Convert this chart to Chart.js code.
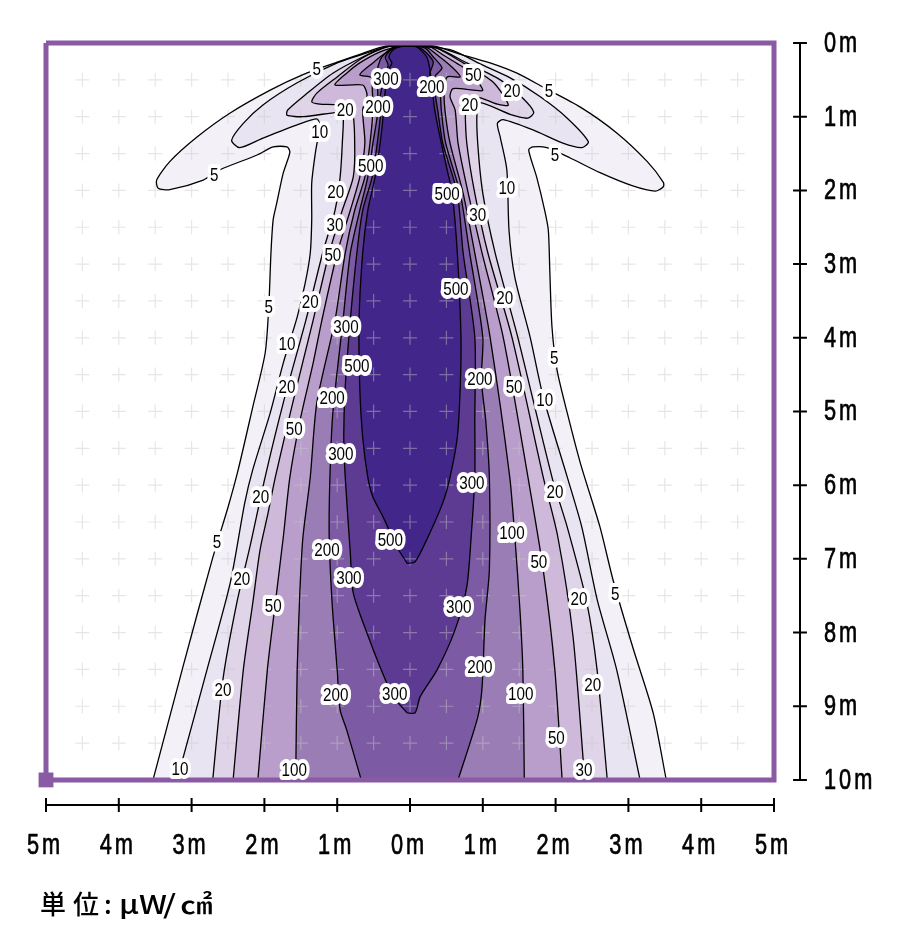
<!DOCTYPE html>
<html>
<head>
<meta charset="utf-8">
<script src="https://cdn.jsdelivr.net/npm/chart.js@4"></script>
<style>
  html, body { margin: 0; background: #fff; }
  #wrap { position: relative; width: 900px; height: 950px; }
  #unit span { position: absolute; top: 884px; font: 500 26px "Noto Sans CJK JP"; color: #000; white-space: nowrap; transform-origin: left center; }
</style>
</head>
<body>
<div id="wrap">
  <canvas id="chart" width="900" height="950"></canvas>
  <div id="unit"><span style="left:40px;letter-spacing:7px">単位</span><span style="left:104px">:</span><span style="left:119px;transform:scaleX(1.2)">μW</span><span style="left:163px;transform:scaleX(1.3)">/</span><span style="left:180px;transform:scaleX(1.25)">㎠</span></div>
</div>
<script>
// contour lines, [x metres from centre, y metres from lamp]
const level5 = [[-3.53,10],[-3.12,8.47],[-2.72,7.02],[-2.50,6.30],[-2.36,5.79],[-2.16,4.94],[-1.99,4.21],[-1.94,3.58],[-1.91,2.85],[-1.88,2.40],[-1.83,2.17],[-1.74,1.76],[-1.65,1.48],[-1.69,1.41],[-1.88,1.41],[-2.10,1.52],[-2.61,1.72],[-2.84,1.86],[-3.30,1.99],[-3.46,1.97],[-3.48,1.86],[-3.30,1.61],[-2.93,1.28],[-2.47,0.95],[-1.92,0.64],[-1.47,0.43],[-1.00,0.26],[-0.65,0.14],[-0.32,0.04],[0,0.03],[0.32,0.04],[0.65,0.14],[1.10,0.27],[1.47,0.41],[1.83,0.60],[2.34,0.87],[2.84,1.22],[3.26,1.61],[3.48,1.89],[3.48,1.95],[3.37,2.01],[3.06,1.94],[2.61,1.76],[2.20,1.56],[1.88,1.42],[1.69,1.41],[1.63,1.45],[1.74,1.82],[1.85,2.27],[1.90,2.54],[1.92,3.08],[1.95,3.85],[2.02,4.44],[2.16,5.02],[2.34,5.70],[2.61,6.57],[2.79,7.29],[3.06,8.20],[3.34,9.09],[3.52,10]];
const level10 = [[-3.20,10],[-2.79,8.51],[-2.47,7.33],[-2.27,6.24],[-2.16,5.79],[-1.92,5.02],[-1.74,4.34],[-1.55,3.72],[-1.44,3.26],[-1.37,2.85],[-1.35,2.40],[-1.35,1.90],[-1.30,1.49],[-1.24,1.11],[-1.28,1.03],[-1.55,1.11],[-2.02,1.29],[-2.34,1.42],[-2.45,1.32],[-2.29,1.09],[-2.02,0.84],[-1.55,0.54],[-1.00,0.27],[-0.55,0.12],[-0.27,0.04],[0,0.03],[0.55,0.09],[1.00,0.30],[1.37,0.47],[1.79,0.73],[2.16,1.02],[2.45,1.34],[2.36,1.42],[2.10,1.36],[1.69,1.18],[1.28,1.04],[1.20,1.09],[1.24,1.28],[1.33,1.72],[1.36,2.54],[1.44,3.18],[1.65,3.99],[1.83,4.80],[2.16,5.89],[2.36,6.57],[2.57,7.55],[2.84,8.51],[3.16,10]];
const level20 = [[-2.71,10],[-2.57,8.64],[-2.38,7.60],[-2.20,6.84],[-1.99,5.89],[-1.74,4.88],[-1.43,3.76],[-1.20,2.85],[-1.03,2.27],[-0.96,1.82],[-0.93,1.36],[-0.92,0.95],[-1.00,0.94],[-1.47,1.00],[-1.69,0.98],[-1.68,0.91],[-1.41,0.68],[-1.06,0.41],[-0.65,0.19],[-0.32,0.05],[0,0.04],[0.37,0.07],[0.78,0.27],[1.24,0.50],[1.55,0.75],[1.70,0.94],[1.62,1.02],[1.41,0.98],[0.96,0.81],[0.92,0.95],[0.93,1.36],[1.00,2.04],[1.17,2.85],[1.48,3.99],[1.95,5.89],[2.16,6.57],[2.43,7.60],[2.57,8.51],[2.71,10]];
const level30 = [[-2.43,10],[-2.29,8.51],[-2.16,7.60],[-2.06,6.88],[-1.95,6.38],[-1.85,5.89],[-1.61,4.88],[-1.33,3.76],[-1.11,2.85],[-0.93,2.27],[-0.78,1.82],[-0.76,1.36],[-0.80,0.91],[-1.00,0.84],[-1.24,0.83],[-1.35,0.80],[-1.28,0.68],[-1.00,0.46],[-0.65,0.20],[-0.30,0.05],[0,0.04],[0.32,0.05],[0.73,0.27],[1.14,0.53],[1.35,0.84],[1.20,0.83],[0.92,0.73],[0.78,0.77],[0.76,0.91],[0.78,1.36],[0.89,2.04],[1.07,2.85],[1.40,3.99],[1.83,5.89],[2.03,6.70],[2.24,8.06],[2.40,10]];
const level50 = [[-2.09,10],[-1.96,8.51],[-1.85,7.60],[-1.74,6.70],[-1.65,5.89],[-1.51,5.12],[-1.33,4.34],[-1.21,3.76],[-1.00,2.85],[-0.82,2.27],[-0.69,1.82],[-0.62,1.36],[-0.65,0.91],[-0.59,0.71],[-0.65,0.57],[-1.03,0.57],[-0.87,0.41],[-0.69,0.27],[-0.41,0.12],[-0.16,0.05],[0,0.04],[0.27,0.05],[0.45,0.16],[0.65,0.28],[0.82,0.39],[1.00,0.64],[0.87,0.64],[0.59,0.62],[0.55,0.73],[0.62,0.91],[0.66,1.36],[0.80,2.04],[0.99,2.85],[1.28,3.99],[1.62,5.89],[1.83,7.15],[1.99,8.51],[2.09,10]];
const level100 = [[-1.57,10],[-1.55,8.51],[-1.51,7.38],[-1.47,6.70],[-1.37,5.89],[-1.28,4.88],[-1.03,3.76],[-0.89,2.85],[-0.76,2.27],[-0.62,1.82],[-0.55,1.36],[-0.51,0.91],[-0.52,0.57],[-0.52,0.47],[-0.69,0.43],[-0.51,0.27],[-0.34,0.14],[-0.16,0.05],[0,0.04],[0.21,0.05],[0.41,0.19],[0.59,0.34],[0.69,0.46],[0.51,0.46],[0.47,0.64],[0.48,0.91],[0.55,1.36],[0.73,2.04],[0.89,2.85],[1.10,3.99],[1.37,5.89],[1.44,6.70],[1.51,7.69],[1.55,8.51],[1.57,10]];
const level200 = [[-0.67,10],[-0.87,9.32],[-0.96,9.05],[-1.00,8.51],[-1.07,7.60],[-1.11,6.70],[-1.10,5.89],[-1.06,5.02],[-0.92,3.76],[-0.82,2.85],[-0.69,2.27],[-0.58,1.82],[-0.51,1.36],[-0.44,0.91],[-0.45,0.39],[-0.41,0.23],[-0.34,0.14],[-0.21,0.05],[0,0.04],[0.21,0.07],[0.32,0.19],[0.44,0.34],[0.34,0.46],[0.41,0.64],[0.43,0.91],[0.49,1.36],[0.69,2.04],[0.82,2.85],[1.00,3.99],[0.98,4.57],[1.04,5.12],[1.09,5.89],[1.09,7.15],[1.03,7.83],[0.99,8.74],[0.93,9.15],[0.66,10]];
const level300 = [[-0.04,9.09],[-0.23,8.87],[-0.41,8.47],[-0.59,8.01],[-0.78,7.46],[-0.82,6.92],[-0.89,5.89],[-0.91,5.35],[-0.89,4.67],[-0.82,3.76],[-0.73,2.85],[-0.65,2.27],[-0.52,1.82],[-0.45,1.36],[-0.40,0.91],[-0.41,0.73],[-0.37,0.54],[-0.30,0.30],[-0.34,0.19],[-0.21,0.05],[0,0.04],[0.14,0.07],[0.25,0.16],[0.32,0.26],[0.27,0.43],[0.32,0.57],[0.38,0.91],[0.45,1.36],[0.65,2.04],[0.73,2.85],[0.89,3.99],[0.89,5.12],[0.89,5.89],[0.84,6.70],[0.78,7.38],[0.62,7.96],[0.37,8.51],[0.14,8.87],[0.07,9.09],[-0.04,9.09]];
const level500 = [[-0.04,7.06],[-0.18,6.84],[-0.37,6.43],[-0.51,6.16],[-0.58,5.89],[-0.65,5.35],[-0.69,4.67],[-0.70,3.76],[-0.65,2.85],[-0.58,2.27],[-0.48,1.82],[-0.41,1.36],[-0.36,0.91],[-0.34,0.64],[-0.30,0.37],[-0.25,0.27],[-0.29,0.19],[-0.23,0.09],[-0.07,0.04],[0.07,0.04],[0.14,0.09],[0.23,0.19],[0.27,0.34],[0.30,0.57],[0.34,0.91],[0.43,1.36],[0.51,1.72],[0.58,2.04],[0.65,2.85],[0.70,3.99],[0.69,4.67],[0.65,5.35],[0.55,5.89],[0.45,6.24],[0.23,6.74],[0.07,7.04],[-0.04,7.06]];

const contours = [level5, level10, level20, level30, level50, level100, level200, level300, level500];
const bandColors = ['#f4f0f8', '#e9e4f1', '#e0d4e8', '#cfb9da', '#b99ecb', '#9b7db5', '#7c5ba4', '#5d3b93', '#42268a'];

// contour value labels
const labelValues = [5,300,200,50,20,5,20,200,20,10,5,5,500,20,500,10,30,30,50,500,20,20,5,300,10,5,500,200,20,50,200,10,50,300,300,20,20,100,5,500,200,50,20,300,50,20,5,300,200,20,20,200,300,100,50,10,100,30];
const labelXs = [-1.28,-0.33,0.30,0.87,1.40,1.91,-0.89,-0.44,0.82,-1.24,1.99,-2.69,-0.54,-1.02,0.51,1.33,0.93,-1.03,-1.06,0.63,1.30,-1.37,-1.94,-0.88,-1.69,1.98,-0.73,0.96,-1.69,1.43,-1.07,1.85,-1.59,-0.95,0.85,-2.05,1.99,1.40,-2.65,-0.27,-1.14,1.77,-2.31,-0.84,-1.88,2.32,2.82,0.67,0.96,2.51,-2.57,-1.02,-0.21,1.52,2.01,-3.16,-1.59,2.39];
const labelYs = [0.35,0.49,0.60,0.43,0.65,0.65,0.91,0.87,0.84,1.21,1.51,1.79,1.66,2.02,2.05,1.97,2.33,2.47,2.88,3.34,3.46,3.51,3.58,3.85,4.08,4.27,4.38,4.55,4.67,4.67,4.82,4.84,5.24,5.58,5.97,6.16,6.09,6.65,6.77,6.74,6.88,7.04,7.27,7.26,7.63,7.54,7.48,7.65,8.47,8.71,8.78,8.85,8.83,8.83,9.43,9.85,9.86,9.86];

// axis ticks and the + marks behind the lines
const xTicks = [-5,-4,-3,-2,-1,0,1,2,3,4,5];
const yTicks = [0,1,2,3,4,5,6,7,8,9,10];
const crossXs = [-4.5,-4,-3.5,-3,-2.5,-2,-1.5,-1,-0.5,0,0.5,1,1.5,2,2.5,3,3.5,4,4.5];
const crossYs = [0.5,1,1.5,2,2.5,3,3.5,4,4.5,5,5.5,6,6.5,7,7.5,8,8.5,9,9.5];

// the rulers sit outside the purple frame, the scales run a bit past it
const xRuler = 5.357;
const yRuler = 10.34;
const toPoints = (line) => line.map((p) => ({ x: p[0], y: p[1] }));

const crossPoints = [];
crossYs.forEach((y) => crossXs.forEach((x) => crossPoints.push({ x, y })));

const bottomRuler = [{ x: -5, y: yRuler }, { x: 5, y: yRuler }, { x: null, y: null }];
xTicks.forEach((x) => bottomRuler.push({ x, y: yRuler - 0.095 }, { x, y: yRuler + 0.095 }, { x: null, y: null }));
const rightRuler = [{ x: xRuler, y: 0 }, { x: xRuler, y: 10 }, { x: null, y: null }];
yTicks.forEach((y) => rightRuler.push({ x: xRuler - 0.095, y }, { x: xRuler + 0.095, y }, { x: null, y: null }));

const datasets = [];
contours.forEach((line, i) => {
    datasets.push({
        data: toPoints(line), showLine: true, fill: 'shape', tension: 0.25,
        backgroundColor: bandColors[i], borderWidth: 0, pointRadius: 0, order: 100 - i,
    });
});
datasets.push({
    data: crossPoints, pointStyle: 'cross', pointRadius: 7, pointBorderWidth: 1.2,
    pointBorderColor: 'rgba(200,200,200,0.45)', order: 50,
});
contours.forEach((line) => {
    datasets.push({
        data: toPoints(line), showLine: true, tension: 0.25,
        borderColor: '#000', borderWidth: 1.3, pointRadius: 0, order: 40,
    });
});
datasets.push({
    data: toPoints([[-5, 0], [5, 0], [5, 10], [-5, 10], [-5, 0]]), showLine: true, clip: false,
    borderColor: '#8a5aa4', borderWidth: 5, pointRadius: 0, order: 30,
});
datasets.push({
    data: [{ x: -5, y: 10 }], pointStyle: 'rect', pointRadius: 10.5, clip: false,
    pointBackgroundColor: '#8a5aa4', pointBorderWidth: 0, order: 20,
});
[bottomRuler, rightRuler].forEach((ruler) => {
    datasets.push({
        data: ruler, showLine: true, clip: false,
        borderColor: '#000', borderWidth: 2, pointRadius: 0, order: 10,
    });
});

// no narrow gothic installed, so squeeze Liberation Sans sideways
function narrowText(ctx, text, px, py, squeeze, align, weight) {
    ctx.save();
    ctx.translate(px, py);
    ctx.scale(squeeze, 1);
    ctx.textAlign = align;
    if (weight) {
        ctx.strokeStyle = ctx.fillStyle;
        ctx.lineWidth = weight;
        ctx.strokeText(text, 0, 0);
    }
    ctx.fillText(text, 0, 0);
    ctx.restore();
}

const narrowLabels = {
    id: 'narrowLabels',
    afterDatasetsDraw(chart) {
        const { ctx, scales } = chart;
        ctx.save();
        ctx.font = '19px "Liberation Sans"';
        ctx.textBaseline = 'middle';
        ctx.lineJoin = 'round';
        labelValues.forEach((v, i) => {
            const px = scales.x.getPixelForValue(labelXs[i]);
            const py = scales.y.getPixelForValue(labelYs[i]) + 1;
            ctx.save();
            ctx.translate(px, py);
            ctx.scale(0.8, 1);
            ctx.textAlign = 'center';
            ctx.strokeStyle = '#fff';
            ctx.lineWidth = 8;
            ctx.strokeText(String(v), 0, 0);
            ctx.restore();
            ctx.fillStyle = '#000';
            narrowText(ctx, String(v), px, py, 0.8, 'center');
        });
        // tick labels, taken from the scales
        ctx.font = '29px "Liberation Sans"';
        ctx.letterSpacing = '4px';
        ctx.fillStyle = '#000';
        scales.x.ticks.forEach((t, i) => {
            narrowText(ctx, t.label, scales.x.getPixelForTick(i) - 1, 846, 0.75, 'center', 0.7);
        });
        scales.y.ticks.forEach((t, i) => {
            narrowText(ctx, t.label, 824, scales.y.getPixelForTick(i) + 1, 0.75, 'left', 0.7);
        });
        ctx.restore();
    },
};

new Chart(document.getElementById('chart'), {
    type: 'scatter',
    data: { datasets },
    plugins: [narrowLabels],
    options: {
        responsive: false,
        animation: false,
        events: [],
        layout: { padding: { left: 46, top: 43, right: 0, bottom: 0 } },
        plugins: { legend: { display: false }, tooltip: { enabled: false } },
        scales: {
            x: {
                type: 'linear', min: -5, max: xRuler, position: 'bottom',
                grid: { display: false }, border: { display: false },
                afterFit(scale) { scale.height = 145; },
                afterBuildTicks(scale) { scale.ticks = xTicks.map((value) => ({ value })); },
                ticks: { display: false, autoSkip: false, callback: (v) => Math.abs(v) + 'm' },
            },
            y: {
                type: 'linear', min: 0, max: yRuler, reverse: true, position: 'right',
                grid: { display: false }, border: { display: false },
                afterFit(scale) { scale.width = 100; },
                afterBuildTicks(scale) { scale.ticks = yTicks.map((value) => ({ value })); },
                ticks: { display: false, autoSkip: false, callback: (v) => v + 'm' },
            },
        },
    },
});
</script>
</body>
</html>
